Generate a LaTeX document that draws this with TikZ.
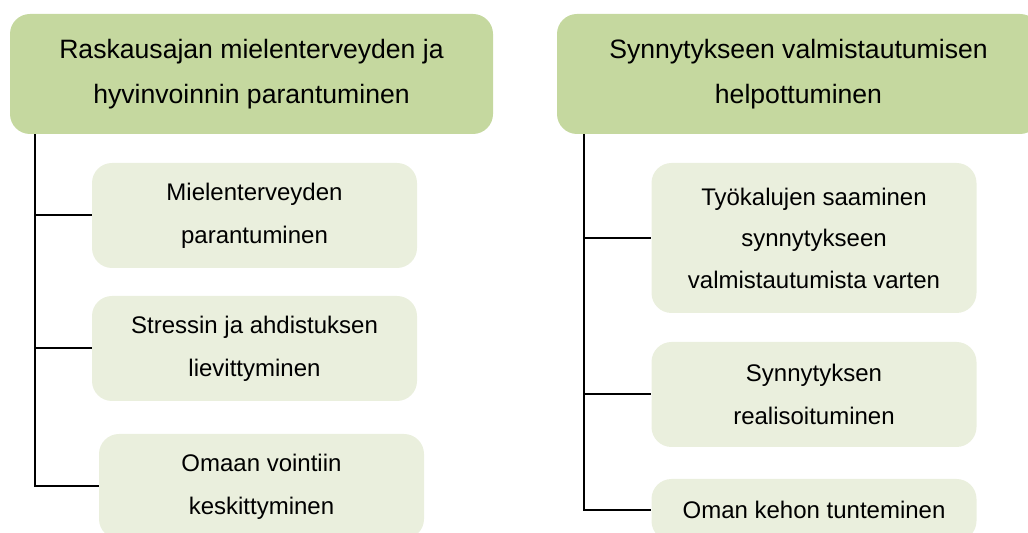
\documentclass[tikz,border=0pt]{standalone}
\usepackage{fontspec}
\setmainfont{Liberation Sans}
\definecolor{mainfill}{RGB}{197,216,159}
\definecolor{subfill}{RGB}{234,239,221}
\tikzset{%
  % Specifications for style of nodes:
          base/.style = {rectangle, rounded corners=10pt, draw=none, align=center},
       mainbox/.style = {base, fill=mainfill, minimum width=241.5pt, minimum height=60pt,
                         font=\fontsize{13.3}{22.5}\selectfont},
        subbox/.style = {base, fill=subfill, minimum width=162.5pt, minimum height=52.5pt,
                         font=\fontsize{12}{21.5}\selectfont},
          link/.style = {draw=black, line width=1pt},
}
\begin{document}
\begin{tikzpicture}[x=0.5pt, y=-0.5pt]
  \useasboundingbox (0,0) rectangle (1028,533);
  \begin{scope}
  \clip (0,0) rectangle (1028,533);
  % Specification of nodes (position, etc.)
  \node (mental)   [mainbox] at (251.5,74) {Raskausajan mielenterveyden ja\\hyvinvoinnin parantuminen};
  \node (birth)    [mainbox] at (798.5,74) {Synnytykseen valmistautumisen\\helpottuminen};

  \node (mhealth)  [subbox] at (254.5,215.5) {Mielenterveyden\\parantuminen};
  \node (stress)   [subbox] at (254.5,348.5) {Stressin ja ahdistuksen\\lievittyminen};
  \node (focus)    [subbox] at (261.5,486.5) {Omaan vointiin\\keskittyminen};

  \node (tools)    [subbox, minimum height=75pt, font=\fontsize{12}{20.75}\selectfont] at (814,238) {Työkalujen saaminen\\synnytykseen\\valmistautumista varten};
  \node (real)     [subbox] at (814,394.5) {Synnytyksen\\realisoituminen};
  \node (body)     [subbox, minimum height=31pt] at (814,510) {Oman kehon tunteminen};

  \coordinate (ltrunk) at ([xshift=12.5pt]mental.south west);
  \coordinate (rtrunk) at ([xshift=13.5pt]birth.south west);

  \draw[link]     (ltrunk) |- (focus.west);
  \draw[link]     (ltrunk |- mhealth.west) -- (mhealth.west);
  \draw[link]     (ltrunk |- stress.west) -- (stress.west);
  \draw[link]     (rtrunk) |- (body.west);
  \draw[link]     (rtrunk |- tools.west) -- (tools.west);
  \draw[link]     (rtrunk |- real.west) -- (real.west);
  \end{scope}
\end{tikzpicture}
\end{document}
